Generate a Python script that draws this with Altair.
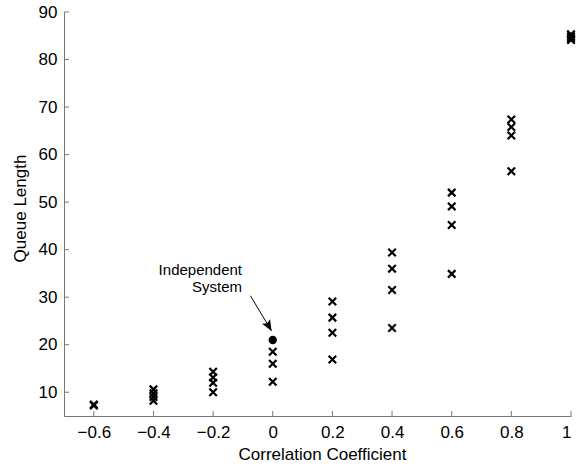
import altair as alt
import pandas as pd

# ---- data ----
corr = [-0.6, -0.6,
        -0.4, -0.4, -0.4, -0.4,
        -0.2, -0.2, -0.2, -0.2,
        0.0, 0.0, 0.0,
        0.2, 0.2, 0.2, 0.2,
        0.4, 0.4, 0.4, 0.4,
        0.6, 0.6, 0.6, 0.6,
        0.8, 0.8, 0.8, 0.8,
        1.0, 1.0, 1.0, 1.0]
queue = [7.4, 7.2,
         10.6, 9.8, 9.0, 8.2,
         14.3, 13.1, 12.0, 10.0,
         18.5, 16.0, 12.2,
         29.1, 25.7, 22.5, 16.9,
         39.4, 36.0, 31.5, 23.5,
         52.0, 49.1, 45.2, 34.9,
         67.4, 65.8, 64.0, 56.5,
         85.3, 84.9, 84.5, 84.1]

indep_corr = [0.0]
indep_queue = [21.0]

x_ticks = [-0.6, -0.4, -0.2, 0, 0.2, 0.4, 0.6, 0.8, 1.0]
y_ticks = [10, 20, 30, 40, 50, 60, 70, 80, 90]

annot_text = "Independent\nSystem"
arrow_x = [-0.075, -0.004]
arrow_y = [30.3, 22.9]

W, H = 507, 404
FONT = "Liberation Sans"
GRAY = "#777777"

xs = alt.Scale(domain=[-0.7, 1.0], nice=False, zero=False)
ys = alt.Scale(domain=[5, 90], nice=False, zero=False)

df = pd.DataFrame({"c": corr, "q": queue})
dfi = pd.DataFrame({"c": indep_corr, "q": indep_queue})
dfa = pd.DataFrame({"c": arrow_x, "q": arrow_y, "o": [0, 1]})
dfxt = pd.DataFrame({"t": x_ticks})
dfyt = pd.DataFrame({"t": y_ticks})

xcross = "M-1,-1L1,1M1,-1L-1,1"
arrowhead = "M0,0L-0.42,-1L0,-0.8L0.42,-1Z"

pts = alt.Chart(df).mark_point(shape=xcross, size=56, strokeWidth=2.2,
                               color="black", filled=False, opacity=1).encode(
    x=alt.X("c:Q", scale=xs,
            axis=alt.Axis(values=x_ticks, title="Correlation Coefficient",
                          format="~g", tickSize=0, labelPadding=8,
                          labelExpr="replace(datum.label, '-', '\u2212')",
                          titleX=258, titleY=38, titleBaseline="middle")),
    y=alt.Y("q:Q", scale=ys,
            axis=alt.Axis(values=y_ticks, title="Queue Length",
                          tickSize=0, labelPadding=7,
                          titleX=-44, titleY=196, titleBaseline="middle")),
)

dot = alt.Chart(dfi).mark_point(shape="circle", size=70, filled=True,
                                color="black", opacity=1).encode(
    x=alt.X("c:Q", scale=xs), y=alt.Y("q:Q", scale=ys))

shaft = alt.Chart(dfa).mark_line(color="black", strokeWidth=1).encode(
    x=alt.X("c:Q", scale=xs), y=alt.Y("q:Q", scale=ys), order="o:Q")

head = alt.Chart(dfa).transform_filter("datum.o == 1").mark_point(
    shape=arrowhead, size=480, angle=330, filled=True, color="black",
    opacity=1, strokeWidth=0).encode(
    x=alt.X("c:Q", scale=xs), y=alt.Y("q:Q", scale=ys))

label = alt.Chart(dfi).mark_text(text=annot_text, lineBreak="\n", align="right",
                                 baseline="top", font=FONT, fontSize=15,
                                 lineHeight=17, color="black").encode(
    x=alt.datum(-0.103, scale=xs), y=alt.datum(37.2, scale=ys))

xtk = alt.Chart(dfxt).mark_rule(color=GRAY, strokeWidth=1).encode(
    x=alt.X("t:Q", scale=xs), y=alt.value(H), y2=alt.value(H - 5))
ytk = alt.Chart(dfyt).mark_rule(color=GRAY, strokeWidth=1).encode(
    y=alt.Y("t:Q", scale=ys), x=alt.value(0), x2=alt.value(5))

chart = alt.layer(xtk, ytk, shaft, pts, dot, head, label).properties(
    width=W, height=H,
    autosize=alt.AutoSizeParams(type="none"),
    padding={"left": 64, "top": 12, "right": 7, "bottom": 52},
).configure_view(stroke=None).configure_axis(
    grid=False, domainColor=GRAY, domainWidth=1,
    labelFont=FONT, titleFont=FONT, labelFontSize=17, titleFontSize=17,
    labelColor="black", titleColor="black", titleFontWeight="normal",
)

chart.save("out.html", embed_options={"renderer": "svg", "actions": False})
